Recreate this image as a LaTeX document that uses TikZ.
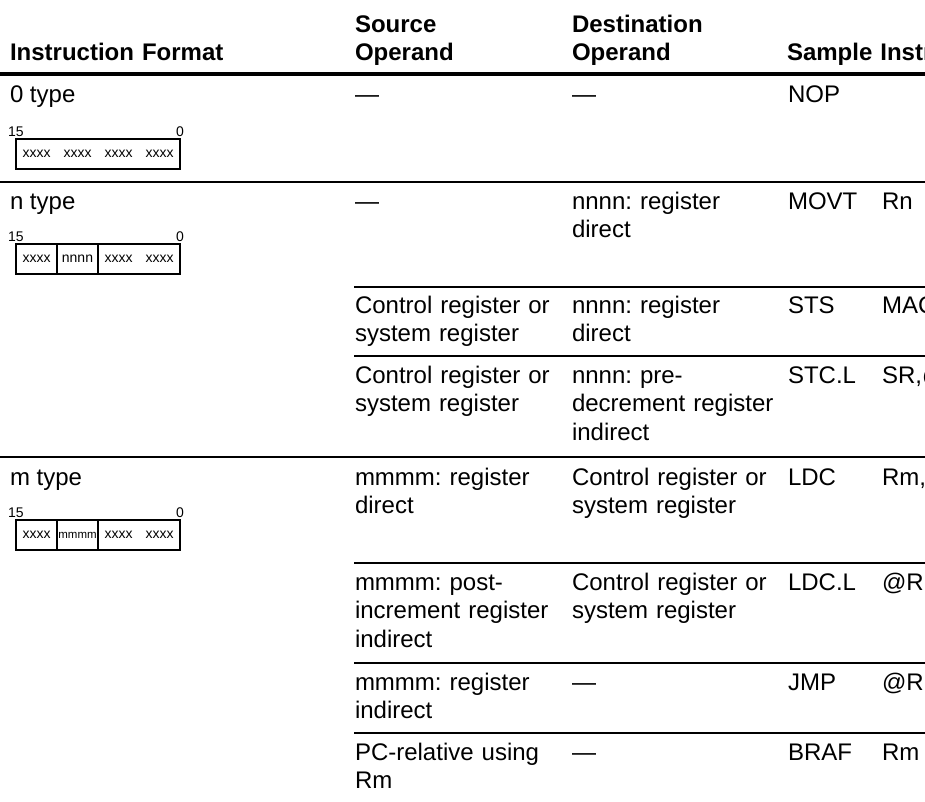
\documentclass[tikz,border=0pt]{standalone}
\usepackage{fontspec}
\setmainfont{Liberation Sans}
\frenchspacing
\begin{document}
\begin{tikzpicture}[x=1pt,y=-1pt,
  every node/.style={inner sep=0pt, outer sep=0pt},
  cell/.style={anchor=base west, text width=240pt, align=left,
    font=\fontsize{24}{28.3}\selectfont},
  head/.style={cell, font=\fontsize{24}{28.3}\selectfont\bfseries},
  word/.style={anchor=base west, font=\fontsize{24}{28.3}\selectfont},
  bitlabel/.style={anchor=base, font=\fontsize{14}{16}\selectfont},
  fieldtxt/.style={anchor=base, font=\fontsize{14}{16}\selectfont},
  narrowtxt/.style={anchor=base, font=\fontsize{11.5}{13}\selectfont},
  thickrule/.style={line width=3.5pt},
  rowrule/.style={line width=2pt},
  boxframe/.style={line width=2.4pt},
  divider/.style={line width=1.6pt}
]
\useasboundingbox (0,0) rectangle (925,801);
\clip (0,0) rectangle (925,801);

% ---- header ----
\node[head] (hfmt) at (10,60.5) {Instruction Format};
\node[head] (hsrc) at (355,32.2) {Source\\Operand};
\node[head] (hdst) at (572,32.2) {Destination\\Operand};
\node[head] (hsmp) at (787,60.5) {Sample Instr};
\draw[thickrule] (0,74) -- (925,74);

% ---- 0 type ----
\node[word] (r0fmt) at (10,102.5) {0 type};
\node[word] (r0src) at (355,102.5) {—};
\node[word] (r0dst) at (572,102.5) {—};
\node[word] (r0op)  at (788,102.5) {NOP};
\node[bitlabel] (b0hi) at (16,136) {15};
\node[bitlabel] (b0lo) at (180,136) {0};
\draw[boxframe] (16,139) rectangle (180,169);
\node[fieldtxt] (b0f1) at (36.5,157.5) {xxxx};
\node[fieldtxt] (b0f2) at (77.5,157.5) {xxxx};
\node[fieldtxt] (b0f3) at (118.5,157.5) {xxxx};
\node[fieldtxt] (b0f4) at (159.5,157.5) {xxxx};
\draw[rowrule] (0,182) -- (925,182);

% ---- n type ----
\node[word] (rnfmt) at (10,209.5) {n type};
\node[word] (rnsrc) at (355,209.5) {—};
\node[cell] (rndst) at (572,209.5) {nnnn: register\\direct};
\node[word] (rnop)  at (788,209.5) {MOVT};
\node[word] (rnarg) at (882,209.5) {Rn};
\node[bitlabel] (bnhi) at (16,241) {15};
\node[bitlabel] (bnlo) at (180,241) {0};
\draw[boxframe] (16,244) rectangle (180,274);
\draw[divider] (57,244) -- (57,274);
\draw[divider] (98,244) -- (98,274);
\node[fieldtxt] (bnf1) at (36.5,262.5) {xxxx};
\node[fieldtxt] (bnf2) at (77.5,262.5) {nnnn};
\node[fieldtxt] (bnf3) at (118.5,262.5) {xxxx};
\node[fieldtxt] (bnf4) at (159.5,262.5) {xxxx};
\draw[rowrule] (354,287) -- (925,287);

\node[cell] (rcsrc) at (355,313.5) {Control register or\\system register};
\node[cell] (rcdst) at (572,313.5) {nnnn: register\\direct};
\node[word] (rcop)  at (788,313.5) {STS};
\node[word] (rcarg) at (882,313.5) {MAC};
\draw[rowrule] (354,356) -- (925,356);

\node[cell] (rdsrc) at (355,383.5) {Control register or\\system register};
\node[cell] (rddst) at (572,383.5) {nnnn: pre-\\decrement register\\indirect};
\node[word] (rdop)  at (788,383.5) {STC.L};
\node[word] (rdarg) at (882,383.5) {SR,@};
\draw[rowrule] (0,457) -- (925,457);

% ---- m type ----
\node[word] (rmfmt) at (10,485.5) {m type};
\node[cell] (resrc) at (355,485.5) {mmmm: register\\direct};
\node[cell] (redst) at (572,485.5) {Control register or\\system register};
\node[word] (reop)  at (788,485.5) {LDC};
\node[word] (rearg) at (882,485.5) {Rm,};
\node[bitlabel] (bmhi) at (16,517) {15};
\node[bitlabel] (bmlo) at (180,517) {0};
\draw[boxframe] (16,520) rectangle (180,550);
\draw[divider] (57,520) -- (57,550);
\draw[divider] (98,520) -- (98,550);
\node[fieldtxt] (bmf1) at (36.5,538.5) {xxxx};
\node[narrowtxt] (bmf2) at (77.5,538.5) {mmmm};
\node[fieldtxt] (bmf3) at (118.5,538.5) {xxxx};
\node[fieldtxt] (bmf4) at (159.5,538.5) {xxxx};
\draw[rowrule] (354,563) -- (925,563);

\node[cell] (rfsrc) at (355,590.5) {mmmm: post-\\increment register\\indirect};
\node[cell] (rfdst) at (572,590.5) {Control register or\\system register};
\node[word] (rfop)  at (788,590.5) {LDC.L};
\node[word] (rfarg) at (882,590.5) {@Rm};
\draw[rowrule] (354,663) -- (925,663);

\node[cell] (rgsrc) at (355,690.5) {mmmm: register\\indirect};
\node[word] (rgdst) at (572,690.5) {—};
\node[word] (rgop)  at (788,690.5) {JMP};
\node[word] (rgarg) at (882,690.5) {@Rm};
\draw[rowrule] (354,733) -- (925,733);

\node[cell] (rhsrc) at (355,760.5) {PC-relative using\\Rm};
\node[word] (rhdst) at (572,760.5) {—};
\node[word] (rhop)  at (788,760.5) {BRAF};
\node[word] (rharg) at (882,760.5) {Rm};
\end{tikzpicture}
\end{document}
